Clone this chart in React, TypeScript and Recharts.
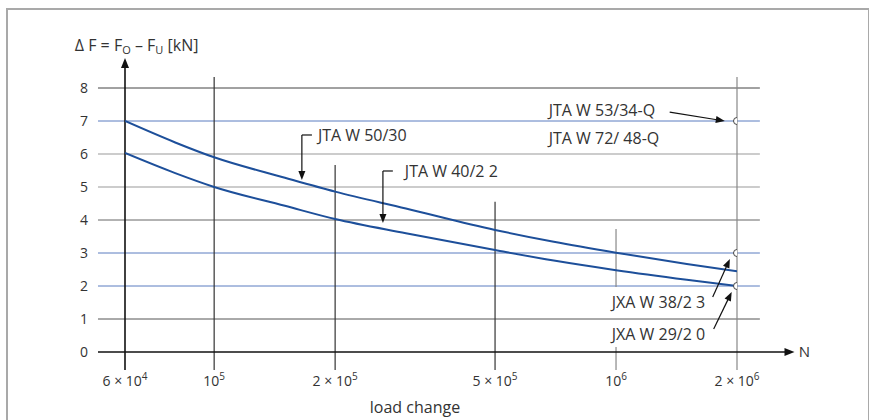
import React from 'react';
import { ComposedChart, Line, Scatter, XAxis, YAxis, ReferenceLine, ReferenceDot } from 'recharts';

// ---- data ----
const LOAD_CHANGES = [60000, 80000, 100000, 150000, 200000, 300000, 500000, 700000, 1000000, 1500000, 2000000];
const JTA_W_50_30 = [7.0, 6.35, 5.9, 5.28, 4.86, 4.35, 3.7, 3.34, 3.01, 2.67, 2.45];
const JTA_W_40_22 = [6.03, 5.42, 5.0, 4.43, 4.03, 3.6, 3.09, 2.77, 2.48, 2.19, 2.0];
const MARKER_N = [2000000, 2000000, 2000000];
const MARKER_F = [7, 3, 2];
const X_TICKS = [60000, 100000, 200000, 500000, 1000000, 2000000];
const X_TICK_BASES = ['6 × 10', '10', '2 × 10', '5 × 10', '10', '2 × 10'];
const X_TICK_EXPONENTS = ['4', '5', '5', '5', '6', '6'];
const Y_TICKS = [0, 1, 2, 3, 4, 5, 6, 7, 8];

const data = LOAD_CHANGES.map((n, i) => ({ n, upper: JTA_W_50_30[i], lower: JTA_W_40_22[i] }));
const markers = MARKER_N.map((n, i) => ({ n, f: MARKER_F[i] }));

// ---- layout (data coordinates) ----
const BLUE_GRID = '#5a7cc0';
const GRID_COLORS: Record<number, string> = {
  1: '#555', 2: BLUE_GRID, 3: BLUE_GRID, 4: '#666', 5: '#999', 6: '#999', 7: BLUE_GRID, 8: '#444',
};
const GRID_X_START = 51400;
const GRID_X_END = 2280000;
const AXIS_X_END = 2780000;
const Y_BOTTOM = -0.545;
const Y_AXIS_TOP = 8.91;

const V_LINES = [
  { n: 100000, from: Y_BOTTOM, to: 8.33, color: '#333' },
  { n: 200000, from: Y_BOTTOM, to: 5.67, color: '#333' },
  { n: 500000, from: Y_BOTTOM, to: 4.55, color: '#333' },
  { n: 1000000, from: 1.97, to: 3.73, color: '#888' },
  { n: 1000000, from: Y_BOTTOM, to: 0.15, color: '#888' },
  { n: 2000000, from: Y_BOTTOM, to: 8.33, color: '#888' },
];

const ARROWS = [
  { x1: 1360000, y1: 7.27, x2: 1865000, y2: 7.0 },
  { x1: 1740000, y1: 1.667, x2: 1920000, y2: 2.82 },
  { x1: 1750000, y1: 0.7, x2: 1940000, y2: 1.82 },
  { x1: 165300, y1: 6.576, x2: 165300, y2: 5.21 },
  { x1: 263000, y1: 5.485, x2: 263000, y2: 3.909 },
];
const LEADERS = [
  { x1: 175100, y1: 6.576, x2: 165300, y2: 6.576 },
  { x1: 278400, y1: 5.485, x2: 263000, y2: 5.485 },
];

const LABELS = [
  { text: 'JTA W 53/34-Q', n: 680000, f: 7.333 },
  { text: 'JTA W 72/ 48-Q', n: 680000, f: 6.485 },
  { text: 'JXA W 38/2 3', n: 976000, f: 1.515 },
  { text: 'JXA W 29/2 0', n: 976000, f: 0.545 },
  { text: 'JTA W 50/30', n: 181200, f: 6.576 },
  { text: 'JTA W 40/2 2', n: 298200, f: 5.47 },
];

const plainLine = (color: string, width: number) => (p: any) => (
  <line x1={p.x1} y1={p.y1} x2={p.x2} y2={p.y2} stroke={color} strokeWidth={width} />
);

const arrowLine = (color: string, width: number, headLen = 10, headHalf = 3.5) => (p: any) => {
  const { x1, y1, x2, y2 } = p;
  const dx = x2 - x1;
  const dy = y2 - y1;
  const len = Math.hypot(dx, dy) || 1;
  const ux = dx / len;
  const uy = dy / len;
  const bx = x2 - ux * headLen;
  const by = y2 - uy * headLen;
  const pts = `${x2},${y2} ${bx - uy * headHalf},${by + ux * headHalf} ${bx + uy * headHalf},${by - ux * headHalf}`;
  return (
    <g>
      <line x1={x1} y1={y1} x2={bx + ux} y2={by + uy} stroke={color} strokeWidth={width} />
      <polygon points={pts} fill={color} />
    </g>
  );
};

const textShape = (content: React.ReactNode, anchor: 'start' | 'middle' | 'end', size: number) => (p: any) => (
  <text x={p.cx} y={p.cy} textAnchor={anchor} dominantBaseline="central" fontSize={size} fill="#333">
    {content}
  </text>
);

const XTick = (props: any) => {
  const { x, y, payload } = props;
  const i = X_TICKS.indexOf(payload.value);
  return (
    <text x={x} y={y + 34} textAnchor="middle" fontSize={14} fill="#333">
      {X_TICK_BASES[i]}
      <tspan fontSize={10} dy={-6}>{X_TICK_EXPONENTS[i]}</tspan>
    </text>
  );
};

const Y_TITLE = (
  <>
    {'Δ F = F'}
    <tspan fontSize={11} dy={4}>O</tspan>
    <tspan dy={-4}>{' – F'}</tspan>
    <tspan fontSize={11} dy={4}>U</tspan>
    <tspan dy={-4}>{' [kN]'}</tspan>
  </>
);

export default function App() {
  return (
    <div style={{ position: 'absolute', left: 0, top: 0, width: 869, height: 420, overflow: 'hidden', background: '#fff', fontFamily: "'Open Sans', sans-serif" }}>
      <div style={{ position: 'absolute', left: 6, top: 8, width: 860, height: 430, borderLeft: '2px solid #a9a9a9', borderTop: '2px solid #a9a9a9', borderRight: '2px solid #a9a9a9' }} />
      <div style={{ position: 'absolute', left: 0, top: 0 }}>
        <ComposedChart width={869} height={420} data={data} margin={{ top: 88, right: 132, bottom: 0, left: 0 }}>
          <XAxis
            dataKey="n"
            type="number"
            scale="log"
            domain={[60000, 2000000]}
            allowDataOverflow
            ticks={X_TICKS}
            axisLine={false}
            tickLine={false}
            tickSize={0}
            tickMargin={0}
            height={68}
            tick={<XTick />}
          />
          <YAxis
            type="number"
            domain={[0, 8]}
            ticks={Y_TICKS}
            axisLine={false}
            tickLine={false}
            tickSize={0}
            tickMargin={37}
            width={125}
            tick={{ fontSize: 14, fill: '#333' }}
          />
          {Y_TICKS.filter((t) => t > 0).map((t) => (
            <ReferenceLine
              key={`h${t}`}
              ifOverflow="visible"
              segment={[{ x: GRID_X_START, y: t }, { x: GRID_X_END, y: t }]}
              shape={plainLine(GRID_COLORS[t], 1)}
            />
          ))}
          {V_LINES.map((v, i) => (
            <ReferenceLine
              key={`v${i}`}
              ifOverflow="visible"
              segment={[{ x: v.n, y: v.from }, { x: v.n, y: v.to }]}
              shape={plainLine(v.color, 1.2)}
            />
          ))}
          <ReferenceLine
            ifOverflow="visible"
            segment={[{ x: GRID_X_START, y: 0 }, { x: AXIS_X_END, y: 0 }]}
            shape={arrowLine('#111', 1.6, 10, 4)}
          />
          <ReferenceLine
            ifOverflow="visible"
            segment={[{ x: 60000, y: Y_BOTTOM }, { x: 60000, y: Y_AXIS_TOP }]}
            shape={arrowLine('#111', 1.6, 10, 4)}
          />
          <Line dataKey="upper" type="monotone" stroke="#1d4f9a" strokeWidth={2} dot={false} isAnimationActive={false} />
          <Line dataKey="lower" type="monotone" stroke="#1d4f9a" strokeWidth={2} dot={false} isAnimationActive={false} />
          <Scatter
            data={markers}
            dataKey="f"
            isAnimationActive={false}
            shape={(p: any) => <circle cx={p.cx} cy={p.cy} r={3.5} fill="#fff" stroke="#444" strokeWidth={1} />}
          />
          {LEADERS.map((a, i) => (
            <ReferenceLine
              key={`l${i}`}
              ifOverflow="visible"
              segment={[{ x: a.x1, y: a.y1 }, { x: a.x2, y: a.y2 }]}
              shape={plainLine('#111', 1.2)}
            />
          ))}
          {ARROWS.map((a, i) => (
            <ReferenceLine
              key={`a${i}`}
              ifOverflow="visible"
              segment={[{ x: a.x1, y: a.y1 }, { x: a.x2, y: a.y2 }]}
              shape={arrowLine('#111', 1.2, 9, 3.5)}
            />
          ))}
          {LABELS.map((l, i) => (
            <ReferenceDot key={`t${i}`} x={l.n} y={l.f} ifOverflow="visible" shape={textShape(l.text, 'start', 16)} />
          ))}
          <ReferenceDot x={2850000} y={0.03} ifOverflow="visible" shape={textShape('N', 'start', 15)} />
          <ReferenceDot x={316000} y={-1.667} ifOverflow="visible" shape={textShape('load change', 'middle', 16)} />
          <ReferenceDot x={45000} y={9.3} ifOverflow="visible" shape={textShape(Y_TITLE, 'start', 16)} />
        </ComposedChart>
      </div>
    </div>
  );
}
